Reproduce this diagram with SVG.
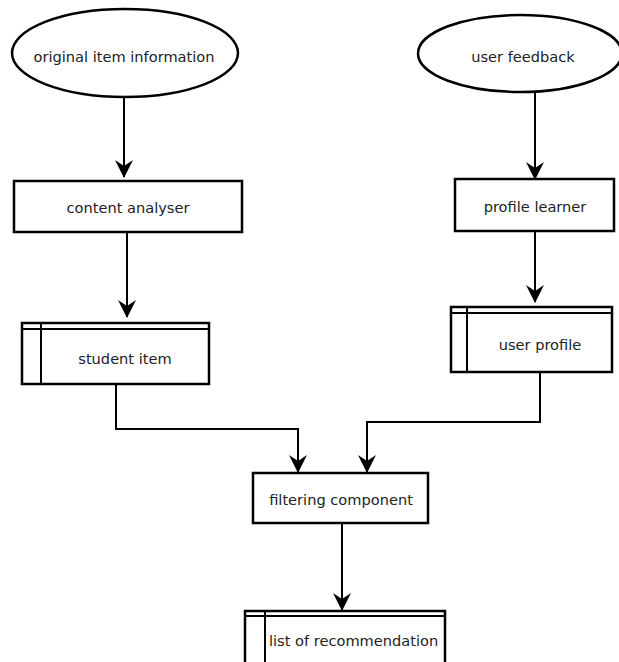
<svg xmlns="http://www.w3.org/2000/svg" width="619" height="662" viewBox="0 0 619 662">
<style>
.shape{fill:#fff;stroke:#000;stroke-width:2.5}
.inner{fill:none;stroke:#000;stroke-width:2}
.lbl{font-family:"DejaVu Sans","Liberation Sans",sans-serif;font-size:14.6px;fill:#222}
.c{text-anchor:middle}
.conn{fill:none;stroke:#000;stroke-width:2;marker-end:url(#ah)}
</style>
<defs>
<marker id="ah" markerUnits="userSpaceOnUse" viewBox="0 0 18 18" markerWidth="18" markerHeight="18" refX="17" refY="9" orient="auto">
<path d="M0,0 L18,9 L0,18 L6,9 z" fill="#000"/>
</marker>
</defs>
<rect width="619" height="662" fill="#fff"/>
<g id="connectors">
<path class="conn" d="M124,97 V177"/>
<path class="conn" d="M127,232 V317"/>
<path class="conn" d="M535,92 V179"/>
<path class="conn" d="M535,231 V302"/>
<path class="conn" d="M116,384 V429 H298 V472"/>
<path class="conn" d="M540,372 V422 H367 V472"/>
<path class="conn" d="M342,523 V610"/>
</g>
<g id="original-item-information">
<ellipse class="shape" cx="125" cy="53" rx="113" ry="44"/>
<text class="lbl c" x="124" y="62">original item information</text>
</g>
<g id="user-feedback">
<ellipse class="shape" cx="520" cy="53.5" rx="102" ry="38.5"/>
<text class="lbl c" x="523" y="62">user feedback</text>
</g>
<g id="content-analyser">
<rect class="shape" x="14" y="181" width="228" height="51"/>
<text class="lbl c" x="128" y="213">content analyser</text>
</g>
<g id="profile-learner">
<rect class="shape" x="455" y="179" width="159" height="52"/>
<text class="lbl c" x="535" y="212">profile learner</text>
</g>
<g id="student-item">
<rect class="shape" x="22" y="323" width="187" height="61"/>
<path class="inner" d="M22,329 H209 M41,323 V384"/>
<text class="lbl c" x="125" y="364">student item</text>
</g>
<g id="user-profile">
<rect class="shape" x="451" y="307" width="161" height="65"/>
<path class="inner" d="M451,313 H612 M467,307 V372"/>
<text class="lbl c" x="540" y="350">user profile</text>
</g>
<g id="filtering-component">
<rect class="shape" x="253" y="473" width="175" height="50"/>
<text class="lbl c" x="341" y="505">filtering component</text>
</g>
<g id="list-of-recommendation">
<rect class="shape" x="245" y="611" width="200" height="60"/>
<path class="inner" d="M245,616 H445 M265,611 V671"/>
<text class="lbl" x="269" y="646">list of recommendation</text>
</g>
</svg>
